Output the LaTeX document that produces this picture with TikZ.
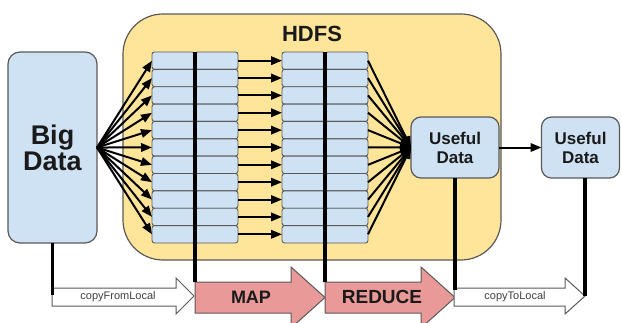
\documentclass[tikz,border=0pt]{standalone}
\usepackage{fontspec}
\setmainfont{Liberation Sans}
\usetikzlibrary{arrows.meta}
\definecolor{hdfsyellow}{HTML}{FFE599}
\definecolor{cellblue}{HTML}{CFE2F3}
\definecolor{mapred}{HTML}{EA9999}
\definecolor{edgegray}{HTML}{595959}
\definecolor{txt}{HTML}{1A1A1A}
\begin{document}
\begin{tikzpicture}[x=1pt,y=-1pt,
 box/.style={draw=edgegray, line width=1.2pt, fill=cellblue, rounded corners=10pt, inner sep=0pt, outer sep=0pt, align=center, text=txt, anchor=north west},
 cell/.style={draw=edgegray, line width=0.9pt, fill=cellblue, rounded corners=2.5pt, minimum width=43pt, minimum height=17.36pt, inner sep=0pt, outer sep=0pt, anchor=north west},
 conn/.style={line width=2pt, -{Triangle[length=11pt,width=8.5pt]}},
 bar/.style={line width=3.6pt},
 bigarrow/.style={draw=edgegray, line width=1pt},
 lbl/.style={font=\bfseries\fontsize{18}{18}\selectfont, text=txt, inner sep=0pt},
 small/.style={font=\fontsize{11}{11}\selectfont, text=black!75, inner sep=0pt},
]
\useasboundingbox (0,0) rectangle (622,322);
\clip (0,0) rectangle (622,322);

% HDFS container
\node[draw=edgegray, line width=1.2pt, fill=hdfsyellow, rounded corners=40pt, minimum width=378pt, minimum height=246pt, inner sep=0pt, outer sep=0pt, anchor=north west] (hdfs) at (123,14) {};
\node[font=\bfseries\fontsize{22}{22}\selectfont, text=txt] (hdfslabel) at (312,34) {HDFS};

% data boxes
\node[box, rounded corners=12pt, minimum width=89pt, minimum height=191pt, font=\bfseries\fontsize{27}{26}\selectfont] (big) at (8,52) {Big\\Data};
\node[box, minimum width=88pt, minimum height=61pt, font=\bfseries\fontsize{17}{19}\selectfont] (u1) at (411,117) {Useful\\Data};
\node[box, minimum width=78pt, minimum height=61pt, font=\bfseries\fontsize{17}{19}\selectfont] (u2) at (541.5,117) {Useful\\Data};

% stacks
\foreach \i in {0,...,10} {
  \pgfmathsetmacro\yt{52+\i*17.36}
  \node[cell] (a\i) at (152,\yt) {};
  \node[cell] (b\i) at (195,\yt) {};
  \node[cell] (c\i) at (282,\yt) {};
  \node[cell] (d\i) at (325,\yt) {};
}

% connectors
\foreach \i in {0,...,10} {
  \draw[conn] (big.east) -- (a\i.west);
  \draw[conn] (b\i.east) -- (c\i.west);
  \draw[conn] (d\i.east) -- (u1.west);
}
\draw[conn] (u1.east) -- (u2.west);

% big arrows
\path[bigarrow, fill=white] (52,288) -- (176,288) -- (176,278) -- (194,296) -- (176,314) -- (176,306) -- (52,306) -- cycle;
\path[bigarrow, fill=mapred] (195,282) -- (291,282) -- (291,267) -- (325,297.5) -- (291,328) -- (291,313) -- (195,313) -- cycle;
\path[bigarrow, fill=mapred] (325,282) -- (421,282) -- (421,267) -- (455,297.5) -- (421,328) -- (421,313) -- (325,313) -- cycle;
\path[bigarrow, fill=white] (454,288) -- (565,288) -- (565,278) -- (585,296) -- (565,314) -- (565,306) -- (454,306) -- cycle;

\coordinate (cflL) at (52,295);
\coordinate (mapTL) at (195,282);
\coordinate (redTL) at (325,282);
\coordinate (ctlTL) at (455,290);
\coordinate (ctlTip) at (585,296);

\node[small] (cfl) at (118,297) {copyFromLocal};
\node[lbl] (map) at (251,297) {MAP};
\node[lbl, font=\bfseries\fontsize{19}{19}\selectfont] (reduce) at (382,297) {REDUCE};
\node[small] (ctl) at (515,297) {copyToLocal};

% bars
\draw[bar] (big.south) -- (big.south |- cflL);
\draw[bar] (a0.north east) -- (mapTL);
\draw[bar] (c0.north east) -- (redTL);
\draw[bar] (u1.south) -- (ctlTL);
\draw[bar] (u2.south -| ctlTip) -- (ctlTip);
\end{tikzpicture}
\end{document}
